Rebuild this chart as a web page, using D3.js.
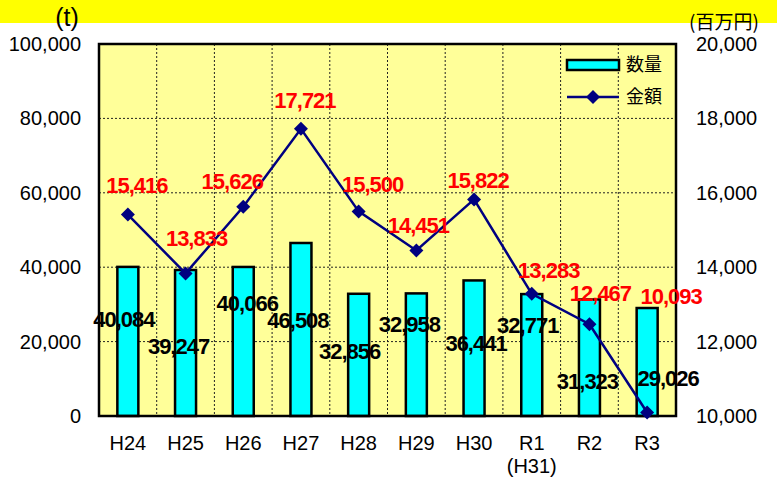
<!DOCTYPE html>
<html>
<head>
<meta charset="utf-8">
<script src="https://cdn.jsdelivr.net/npm/d3@7"></script>
<style>
  body { margin: 0; background: #fff; }
  svg text { font-family: "Liberation Sans", Arial, sans-serif; }
</style>
</head>
<body>
<div id="chart"></div>
<script>
// data
const years = ["H24", "H25", "H26", "H27", "H28", "H29", "H30", "R1", "R2", "R3"];
const quantity = [40084, 39247, 40066, 46508, 32856, 32958, 36441, 32771, 31323, 29026]; // t
const amount = [15416, 13833, 15626, 17721, 15500, 14451, 15822, 13283, 12467, 10093]; // 百万円
const leftTicks = [0, 20000, 40000, 60000, 80000, 100000];
const rightTicks = [10000, 12000, 14000, 16000, 18000, 20000];

// label offsets (hand placed in the original chart)
const qtyLabelDx = [-4, -7, 4, -3, -9, -7, 2, -4, -2, 21];
const qtyLabelDy = [52, 76, 36, 77, 58, 31, 63, 31, 82, 70];
const amtLabelDx = [9, 11, -11, 4, 14, 2, 4, 17, 11, 24];
const amtLabelDy = [-29, -35, -25, -28, -27, -25, -19, -24, -31, -116];

drawChart();

function drawChart() {
  let W = 777, H = 479;
  let margin = {top: 44, right: 101, bottom: 63, left: 99},
    width = W - margin.left - margin.right,
    height = H - margin.top - margin.bottom;

  let root = d3.select("#chart").append("svg")
    .attr("width", W)
    .attr("height", H);

  // yellow band on top
  root.append("rect")
    .attr("x", 0).attr("y", 0)
    .attr("width", W).attr("height", 23)
    .attr("fill", "#ffff00");

  // unit labels
  root.append("text")
    .attr("x", 67).attr("y", 17).attr("dy", "0.35em")
    .attr("text-anchor", "middle")
    .style("font-size", "25px")
    .text("(t)");
  root.append("text")
    .attr("x", 724).attr("y", 22).attr("dy", "0.35em")
    .attr("text-anchor", "middle")
    .style("font-family", "'Noto Sans CJK JP'")
    .style("font-size", "19px")
    .text("(百万円)");

  let svg = root.append("g")
    .attr("transform", "translate(" + margin.left + "," + margin.top + ")");

  let x = d3.scaleBand().domain(years).range([0, width]).padding(0);
  let y = d3.scaleLinear().domain([0, 100000]).range([height, 0]);
  let y2 = d3.scaleLinear().domain([10000, 20000]).range([height, 0]);

  // plot background
  svg.append("rect")
    .attr("width", width).attr("height", height)
    .attr("fill", "#ffff99");

  // gridlines
  svg.append("g").selectAll("line")
    .data(leftTicks.slice(1, -1))
    .enter().append("line")
    .attr("x1", 0).attr("x2", width)
    .attr("y1", d => y(d)).attr("y2", d => y(d))
    .attr("stroke", "#222").attr("stroke-width", 1)
    .attr("stroke-dasharray", "2,2");
  svg.append("g").selectAll("line")
    .data(years.slice(1))
    .enter().append("line")
    .attr("x1", d => x(d)).attr("x2", d => x(d))
    .attr("y1", 0).attr("y2", height)
    .attr("stroke", "#222").attr("stroke-width", 1)
    .attr("stroke-dasharray", "2,2");

  // bars
  let barW = 21;
  svg.append("g").selectAll("rect")
    .data(quantity)
    .enter().append("rect")
    .attr("x", (d, i) => x(years[i]) + x.bandwidth() / 2 - barW / 2)
    .attr("y", d => y(d))
    .attr("width", barW)
    .attr("height", d => height - y(d))
    .attr("fill", "#00ffff")
    .attr("stroke", "#000")
    .attr("stroke-width", 2.5);

  // frame
  svg.append("rect")
    .attr("width", width).attr("height", height)
    .attr("fill", "none")
    .attr("stroke", "#000").attr("stroke-width", 2.5);

  // line
  let line = d3.line()
    .x((d, i) => x(years[i]) + x.bandwidth() / 2)
    .y(d => y2(d));
  svg.append("path")
    .datum(amount)
    .attr("d", line)
    .attr("fill", "none")
    .attr("stroke", "#000080")
    .attr("stroke-width", 2.5);

  let diamond = "M0,-7L7,0L0,7L-7,0Z";
  svg.append("g").selectAll("path")
    .data(amount)
    .enter().append("path")
    .attr("d", diamond)
    .attr("transform", (d, i) => "translate(" + (x(years[i]) + x.bandwidth() / 2) + "," + y2(d) + ")")
    .attr("fill", "#000080");

  // quantity labels
  svg.append("g").selectAll("text")
    .data(quantity)
    .enter().append("text")
    .attr("x", (d, i) => x(years[i]) + x.bandwidth() / 2 + qtyLabelDx[i])
    .attr("y", (d, i) => y(d) + qtyLabelDy[i])
    .attr("dy", "0.35em")
    .attr("text-anchor", "middle")
    .style("font-size", "22px")
    .style("font-weight", "bold")
    .style("letter-spacing", "-1px")
    .attr("fill", "#000")
    .text(d => d3.format(",")(d));

  // amount labels
  svg.append("g").selectAll("text")
    .data(amount)
    .enter().append("text")
    .attr("x", (d, i) => x(years[i]) + x.bandwidth() / 2 + amtLabelDx[i])
    .attr("y", (d, i) => y2(d) + amtLabelDy[i])
    .attr("dy", "0.35em")
    .attr("text-anchor", "middle")
    .style("font-size", "22px")
    .style("font-weight", "bold")
    .style("letter-spacing", "-1px")
    .attr("fill", "#ff0000")
    .text(d => d3.format(",")(d));

  // left axis
  let yAxis = svg.append("g")
    .call(d3.axisLeft(y).tickValues(leftTicks).tickSize(0).tickPadding(18).tickFormat(d3.format(",")));
  yAxis.select(".domain").remove();
  yAxis.selectAll("text").style("font-size", "20px").style("font-family", "'Liberation Sans'").attr("fill", "#000");

  // right axis
  let y2Axis = svg.append("g")
    .attr("transform", "translate(" + width + ",0)")
    .call(d3.axisRight(y2).tickValues(rightTicks).tickSize(0).tickPadding(20).tickFormat(d3.format(",")));
  y2Axis.select(".domain").remove();
  y2Axis.selectAll("text").style("font-size", "20px").style("font-family", "'Liberation Sans'").attr("fill", "#000");

  // x axis
  let xAxis = svg.append("g")
    .attr("transform", "translate(0," + height + ")")
    .call(d3.axisBottom(x).tickSize(0).tickPadding(20));
  xAxis.select(".domain").remove();
  xAxis.selectAll("text").style("font-size", "20px").style("font-family", "'Liberation Sans'").attr("fill", "#000");

  // second line under R1
  svg.append("text")
    .attr("x", x("R1") + x.bandwidth() / 2)
    .attr("y", height + 50).attr("dy", "0.35em")
    .attr("text-anchor", "middle")
    .style("font-size", "20px")
    .text("(H31)");

  // legend
  let legend = svg.append("g")
    .attr("transform", "translate(" + (567 - margin.left) + "," + (65 - margin.top) + ")");
  legend.append("rect")
    .attr("x", 0).attr("y", -5)
    .attr("width", 52).attr("height", 10)
    .attr("fill", "#00ffff")
    .attr("stroke", "#000").attr("stroke-width", 2.5);
  legend.append("text")
    .attr("x", 59).attr("y", 0).attr("dy", "0.35em")
    .style("font-family", "'Noto Sans CJK JP'").style("font-size", "18px")
    .text("数量");
  legend.append("line")
    .attr("x1", 0).attr("x2", 52).attr("y1", 32).attr("y2", 32)
    .attr("stroke", "#000080").attr("stroke-width", 2.5);
  legend.append("path")
    .attr("d", diamond)
    .attr("transform", "translate(26,32)")
    .attr("fill", "#000080");
  legend.append("text")
    .attr("x", 59).attr("y", 32).attr("dy", "0.35em")
    .style("font-family", "'Noto Sans CJK JP'").style("font-size", "18px")
    .text("金額");
}
</script>
</body>
</html>
